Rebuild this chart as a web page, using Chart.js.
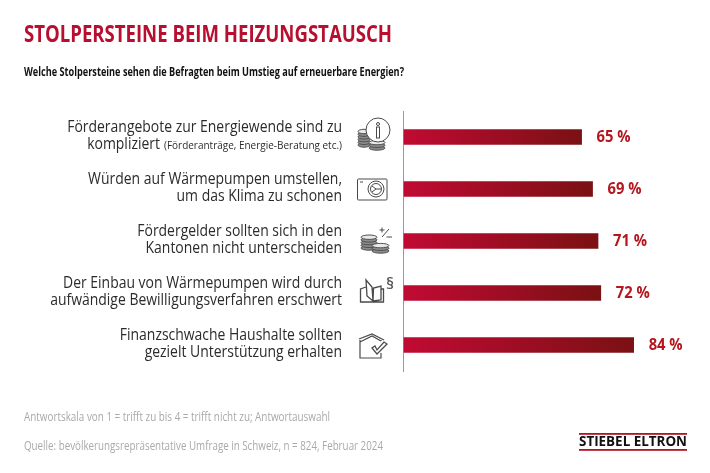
<!DOCTYPE html>
<html>
<head>
<meta charset="utf-8">
<style>
  html, body { margin: 0; padding: 0; background: #fff; }
  #wrap { width: 710px; height: 473px; position: relative; }
</style>
<script src="https://cdn.jsdelivr.net/npm/chart.js@4"></script>
</head>
<body>
<div id="wrap"><canvas id="chart"></canvas></div>
<script>
const categories = [
  'Förderangebote zur Energiewende sind zu kompliziert (Förderanträge, Energie-Beratung etc.)',
  'Würden auf Wärmepumpen umstellen, um das Klima zu schonen',
  'Fördergelder sollten sich in den Kantonen nicht unterscheiden',
  'Der Einbau von Wärmepumpen wird durch aufwändige Bewilligungsverfahren erschwert',
  'Finanzschwache Haushalte sollten gezielt Unterstützung erhalten'
];
const firstLines = [
  'Förderangebote zur Energiewende sind zu',
  'Würden auf Wärmepumpen umstellen,',
  'Fördergelder sollten sich in den',
  'Der Einbau von Wärmepumpen wird durch',
  'Finanzschwache Haushalte sollten'
];
const secondLines = ['kompliziert', 'um das Klima zu schonen', 'Kantonen nicht unterscheiden', 'aufwändige Bewilligungsverfahren erschwert', 'gezielt Unterstützung erhalten'];
const secondLineNotes = ['(Förderanträge, Energie-Beratung etc.)', '', '', '', ''];
const values = [65, 69, 71, 72, 84];
const titleText = 'STOLPERSTEINE BEIM HEIZUNGSTAUSCH';
const subtitleText = 'Welche Stolpersteine sehen die Befragten beim Umstieg auf erneuerbare Energien?';
const footnotes = ['Antwortskala von 1 = trifft zu bis 4 = trifft nicht zu; Antwortauswahl', 'Quelle: bevölkerungsrepräsentative Umfrage in Schweiz, n = 824, Februar 2024'];

const FONT = '"Open Sans", sans-serif';
const LABEL_SQUEEZE = 0.9; // the original face is condensed
const NOTE_SQUEEZE = 0.95;

function barGradient(c) {
  const chart = c.chart;
  if (!chart.chartArea || !chart.scales.x) return '#a00d25';
  const x0 = chart.scales.x.getPixelForValue(0);
  const x1 = chart.scales.x.getPixelForValue(values[c.dataIndex]);
  const g = chart.ctx.createLinearGradient(x0, 0, x1, 0);
  g.addColorStop(0, '#c10a33');
  g.addColorStop(1, '#7a1113');
  return g;
}

// draws text squeezed horizontally by a factor, returns the drawn width
function squeezed(ctx, text, x, y, factor) {
  const w = ctx.measureText(text).width * factor;
  ctx.fillText(text, x, y, w);
  return w;
}

function coins(ctx, x, bottom, w, n) {
  ctx.save();
  ctx.strokeStyle = '#505050';
  for (let i = 0; i < n; i++) {
    const y = bottom - 2 - i * 2.7;
    ctx.beginPath();
    ctx.ellipse(x + w / 2, y, w / 2, 2.2, 0, 0, Math.PI * 2);
    ctx.fillStyle = i === n - 1 ? '#e8e8e8' : '#8c8c8c';
    ctx.fill();
    ctx.stroke();
  }
  ctx.restore();
}

const icons = [
  function (ctx, y) { // coins + info
    coins(ctx, 358, y + 10, 12, 6);
    coins(ctx, 369, y + 13, 16, 3);
    ctx.beginPath(); ctx.arc(378, y - 7, 12, 0, Math.PI * 2); ctx.fillStyle = '#fff'; ctx.fill(); ctx.stroke();
    ctx.beginPath(); ctx.arc(378, y - 13, 1.5, 0, Math.PI * 2); ctx.stroke();
    ctx.strokeRect(376.5, y - 10, 3, 11);
  },
  function (ctx, y) { // heat pump
    ctx.beginPath(); ctx.roundRect(357.5, y - 10, 29.5, 21, 1); ctx.stroke();
    ctx.beginPath(); ctx.moveTo(360, y - 7); ctx.lineTo(363, y - 7); ctx.stroke();
    ctx.beginPath(); ctx.arc(376, y, 8, 0, Math.PI * 2); ctx.stroke();
    ctx.beginPath(); ctx.arc(376, y, 5.5, 0, Math.PI * 2); ctx.stroke();
    ctx.beginPath(); ctx.moveTo(372, y - 3); ctx.lineTo(376, y); ctx.lineTo(372, y + 3); ctx.moveTo(376, y); ctx.lineTo(381, y); ctx.stroke();
  },
  function (ctx, y) { // coins + plus/minus
    coins(ctx, 361, y + 9, 16, 5);
    coins(ctx, 372, y + 12, 17, 3);
    ctx.beginPath();
    ctx.moveTo(379.5, y - 11); ctx.lineTo(384.5, y - 11); ctx.moveTo(382, y - 13.5); ctx.lineTo(382, y - 8.5);
    ctx.moveTo(382, y - 4); ctx.lineTo(389, y - 12);
    ctx.moveTo(386.5, y - 4); ctx.lineTo(392, y - 4);
    ctx.stroke();
  },
  function (ctx, y) { // law book
    ctx.save();
    ctx.lineWidth = 1.3;
    ctx.beginPath();
    ctx.moveTo(373, y + 8); ctx.lineTo(372, y - 6); ctx.lineTo(366, y - 13); ctx.lineTo(367, y + 3); ctx.lineTo(373, y + 8);
    ctx.moveTo(373, y + 8); ctx.lineTo(373.5, y - 5); ctx.lineTo(381, y - 7); ctx.lineTo(381, y + 7); ctx.lineTo(373, y + 8);
    ctx.moveTo(381, y - 4); ctx.lineTo(383.5, y - 4); ctx.lineTo(383.5, y + 9); ctx.lineTo(360.5, y + 9); ctx.lineTo(360.5, y - 4); ctx.lineTo(366, y - 6);
    ctx.stroke();
    ctx.restore();
    ctx.fillStyle = '#555';
    ctx.font = '600 17px ' + FONT;
    ctx.textAlign = 'center';
    ctx.textBaseline = 'middle';
    ctx.fillText('§', 390, y - 9, 8);
  },
  function (ctx, y) { // house + tick
    ctx.save();
    ctx.lineWidth = 1.2;
    ctx.beginPath();
    ctx.moveTo(360, y - 5); ctx.lineTo(360, y + 13); ctx.lineTo(381, y + 13); ctx.lineTo(381, y + 8);
    ctx.moveTo(381, y - 5); ctx.lineTo(381, y - 4);
    ctx.moveTo(359, y - 6); ctx.lineTo(372, y - 11); ctx.lineTo(384, y - 5);
    ctx.moveTo(360, y - 3); ctx.lineTo(372, y - 9); ctx.lineTo(381, y - 4);
    ctx.stroke();
    ctx.beginPath();
    ctx.moveTo(372, y + 3); ctx.lineTo(377, y + 9); ctx.lineTo(387, y - 1);
    ctx.lineTo(384, y - 3); ctx.lineTo(377, y + 5); ctx.lineTo(375, y + 1); ctx.closePath();
    ctx.stroke();
    ctx.restore();
  }
];

const decorations = {
  id: 'decorations',
  afterDraw(chart) {
    const ctx = chart.ctx;
    const yScale = chart.scales.y;
    const xScale = chart.scales.x;
    ctx.save();
    ctx.textBaseline = 'middle';

    // heading
    ctx.textAlign = 'left';
    ctx.fillStyle = '#b80f30';
    ctx.font = 'bold 24px ' + FONT;
    ctx.fillText(titleText, 24, 35, 368);
    ctx.fillStyle = '#111';
    ctx.font = 'bold 12px ' + FONT;
    ctx.fillText(subtitleText, 24, 73, 380);

    // category labels, right aligned against the icons
    categories.forEach((cat, i) => {
      const y = yScale.getPixelForValue(i);
      ctx.fillStyle = '#2b2b2b';
      ctx.textAlign = 'right';
      ctx.font = '15.5px ' + FONT;
      squeezed(ctx, firstLines[i], 342, y - 9, LABEL_SQUEEZE);
      let right = 342;
      if (secondLineNotes[i]) {
        ctx.font = '10.5px ' + FONT;
        right -= squeezed(ctx, secondLineNotes[i], right, y + 9, NOTE_SQUEEZE) + 4;
        ctx.font = '15.5px ' + FONT;
      }
      squeezed(ctx, secondLines[i], right, y + 8, LABEL_SQUEEZE);
    });

    // value labels
    ctx.textAlign = 'left';
    ctx.fillStyle = '#b5161e';
    ctx.font = 'bold 16px ' + FONT;
    values.forEach((v, i) => {
      ctx.fillText(v + ' %', xScale.getPixelForValue(v) + 15, yScale.getPixelForValue(i), 34);
    });

    // icons
    ctx.strokeStyle = '#4a4a4a';
    ctx.lineWidth = 1;
    icons.forEach((draw, i) => draw(ctx, yScale.getPixelForValue(i)));

    // footnotes
    ctx.textAlign = 'left';
    ctx.textBaseline = 'middle';
    ctx.fillStyle = '#a9a9a9';
    ctx.font = '12px ' + FONT;
    ctx.fillText(footnotes[0], 24, 418, 306);
    ctx.fillText(footnotes[1], 24, 447, 359);

    // logo
    ctx.fillStyle = '#b5141f';
    ctx.fillRect(579, 433, 108, 1.8);
    ctx.fillRect(579, 449, 108, 1.8);
    ctx.fillStyle = '#111';
    ctx.font = 'bold 14.5px ' + FONT;
    ctx.fillText('STIEBEL ELTRON', 579, 442, 108);
    ctx.restore();
  }
};

new Chart(document.getElementById('chart'), {
  type: 'bar',
  data: {
    labels: categories,
    datasets: [{
      data: values,
      backgroundColor: barGradient,
      barThickness: 15,
      borderWidth: 0
    }]
  },
  options: {
    indexAxis: 'y',
    responsive: true,
    maintainAspectRatio: false,
    animation: false,
    layout: { padding: { left: 24, right: 32.5, top: 111, bottom: 102 } },
    plugins: {
      legend: { display: false },
      tooltip: { enabled: false }
    },
    scales: {
      x: {
        min: 0,
        max: 100,
        display: false
      },
      y: {
        afterFit(scale) { scale.width = 379.5; },
        grid: { display: false, drawTicks: false },
        border: { display: true, color: '#9a9a9a', width: 1 },
        ticks: { display: false }
      }
    }
  },
  plugins: [decorations]
});
</script>
</body>
</html>
